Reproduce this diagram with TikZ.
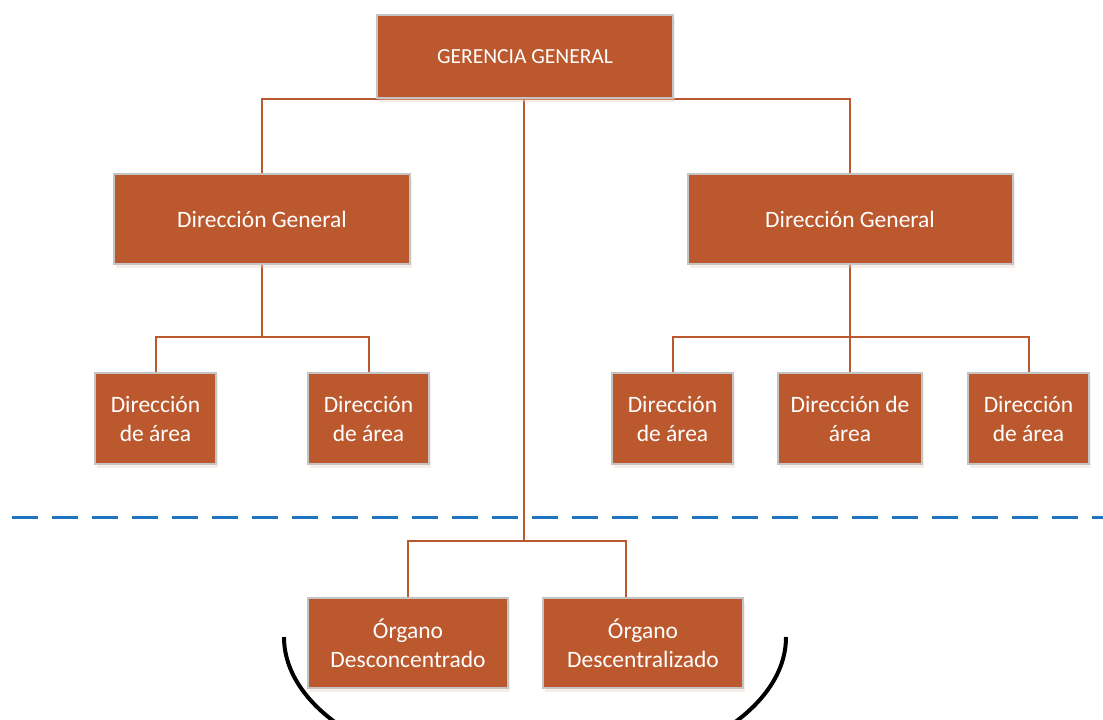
\documentclass[tikz,border=0pt]{standalone}
\usepackage{fontspec}
\setmainfont{Carlito}
\usetikzlibrary{shadows,backgrounds}
\definecolor{boxfill}{HTML}{BC582D}
\definecolor{boxline}{HTML}{C4C4C4}
\definecolor{divider}{HTML}{1F74C2}
\tikzset{
  unitbox/.style={draw=boxline, line width=2pt, fill=boxfill, text=white,
    align=center, inner sep=0pt,
    drop shadow={shadow xshift=2pt, shadow yshift=-4pt, opacity=0.35, fill=boxfill!30},
    font=\fontsize{23.5}{29}\selectfont},
  areabox/.style={unitbox, minimum width=121pt, minimum height=91pt},
  conn/.style={draw=boxfill, line width=2pt},
  divline/.style={draw=divider, line width=3pt, dash pattern=on 26pt off 14pt},
  bracket/.style={draw=black, line width=4pt}
}
\begin{document}
\begin{tikzpicture}[x=1pt, y=-1pt]
\useasboundingbox (0,0) rectangle (1103,720);

% top level
\node[unitbox, minimum width=296pt, minimum height=83pt, font=\fontsize{21.5}{26}\selectfont]
  (gg) at (525,56.5) {GERENCIA GENERAL};

% general directorates
\node[unitbox, minimum width=296pt, minimum height=90pt] (dgL) at (262,219) {Dirección General};
\node[unitbox, minimum width=325pt, minimum height=90pt] (dgR) at (850,219) {Dirección General};

% area directorates
\node[areabox] (a1) at (155.5,418.5) {Dirección\\de área};
\node[areabox] (a2) at (368.5,418.5) {Dirección\\de área};
\node[areabox] (a3) at (672.5,418.5) {Dirección\\de área};
\node[areabox, minimum width=144pt] (a4) at (850,418.5) {Dirección de\\área};
\node[areabox] (a5) at (1028.5,418.5) {Dirección\\de área};

% decentralised bodies
\node[unitbox, minimum width=200pt, minimum height=90pt] (o1) at (408,643) {Órgano\\Desconcentrado};
\node[unitbox, minimum width=200pt, minimum height=90pt] (o2) at (643,643) {Órgano\\Descentralizado};

% junction points of the chart
\coordinate (jL) at (262,337);
\coordinate (jR) at (850,337);
\coordinate (split) at (524,541);
\coordinate (o2top) at (626,598);

% connectors, kept behind the boxes
\begin{scope}[on background layer]
\draw[conn] (dgL.north) |- (gg.south) -| (dgR.north);
\draw[conn] (gg.south -| split) -- (split);
\draw[conn] (dgL.south) -- (jL);
\draw[conn] (a1.north) |- (jL) -| (a2.north);
\draw[conn] (dgR.south) -- (a4.north);
\draw[conn] (a3.north) |- (jR) -| (a5.north);
\draw[conn] (o1.north) |- (split) -| (o2top);
\end{scope}

% dividing line
\draw[divline] (12,517) -- (1103,517);

% bracket under the bodies
\begin{scope}
  \clip (0,0) rectangle (1103,720);
  \draw[bracket] (284,637) arc[start angle=180, end angle=0, x radius=251, y radius=141];
\end{scope}
\end{tikzpicture}
\end{document}
